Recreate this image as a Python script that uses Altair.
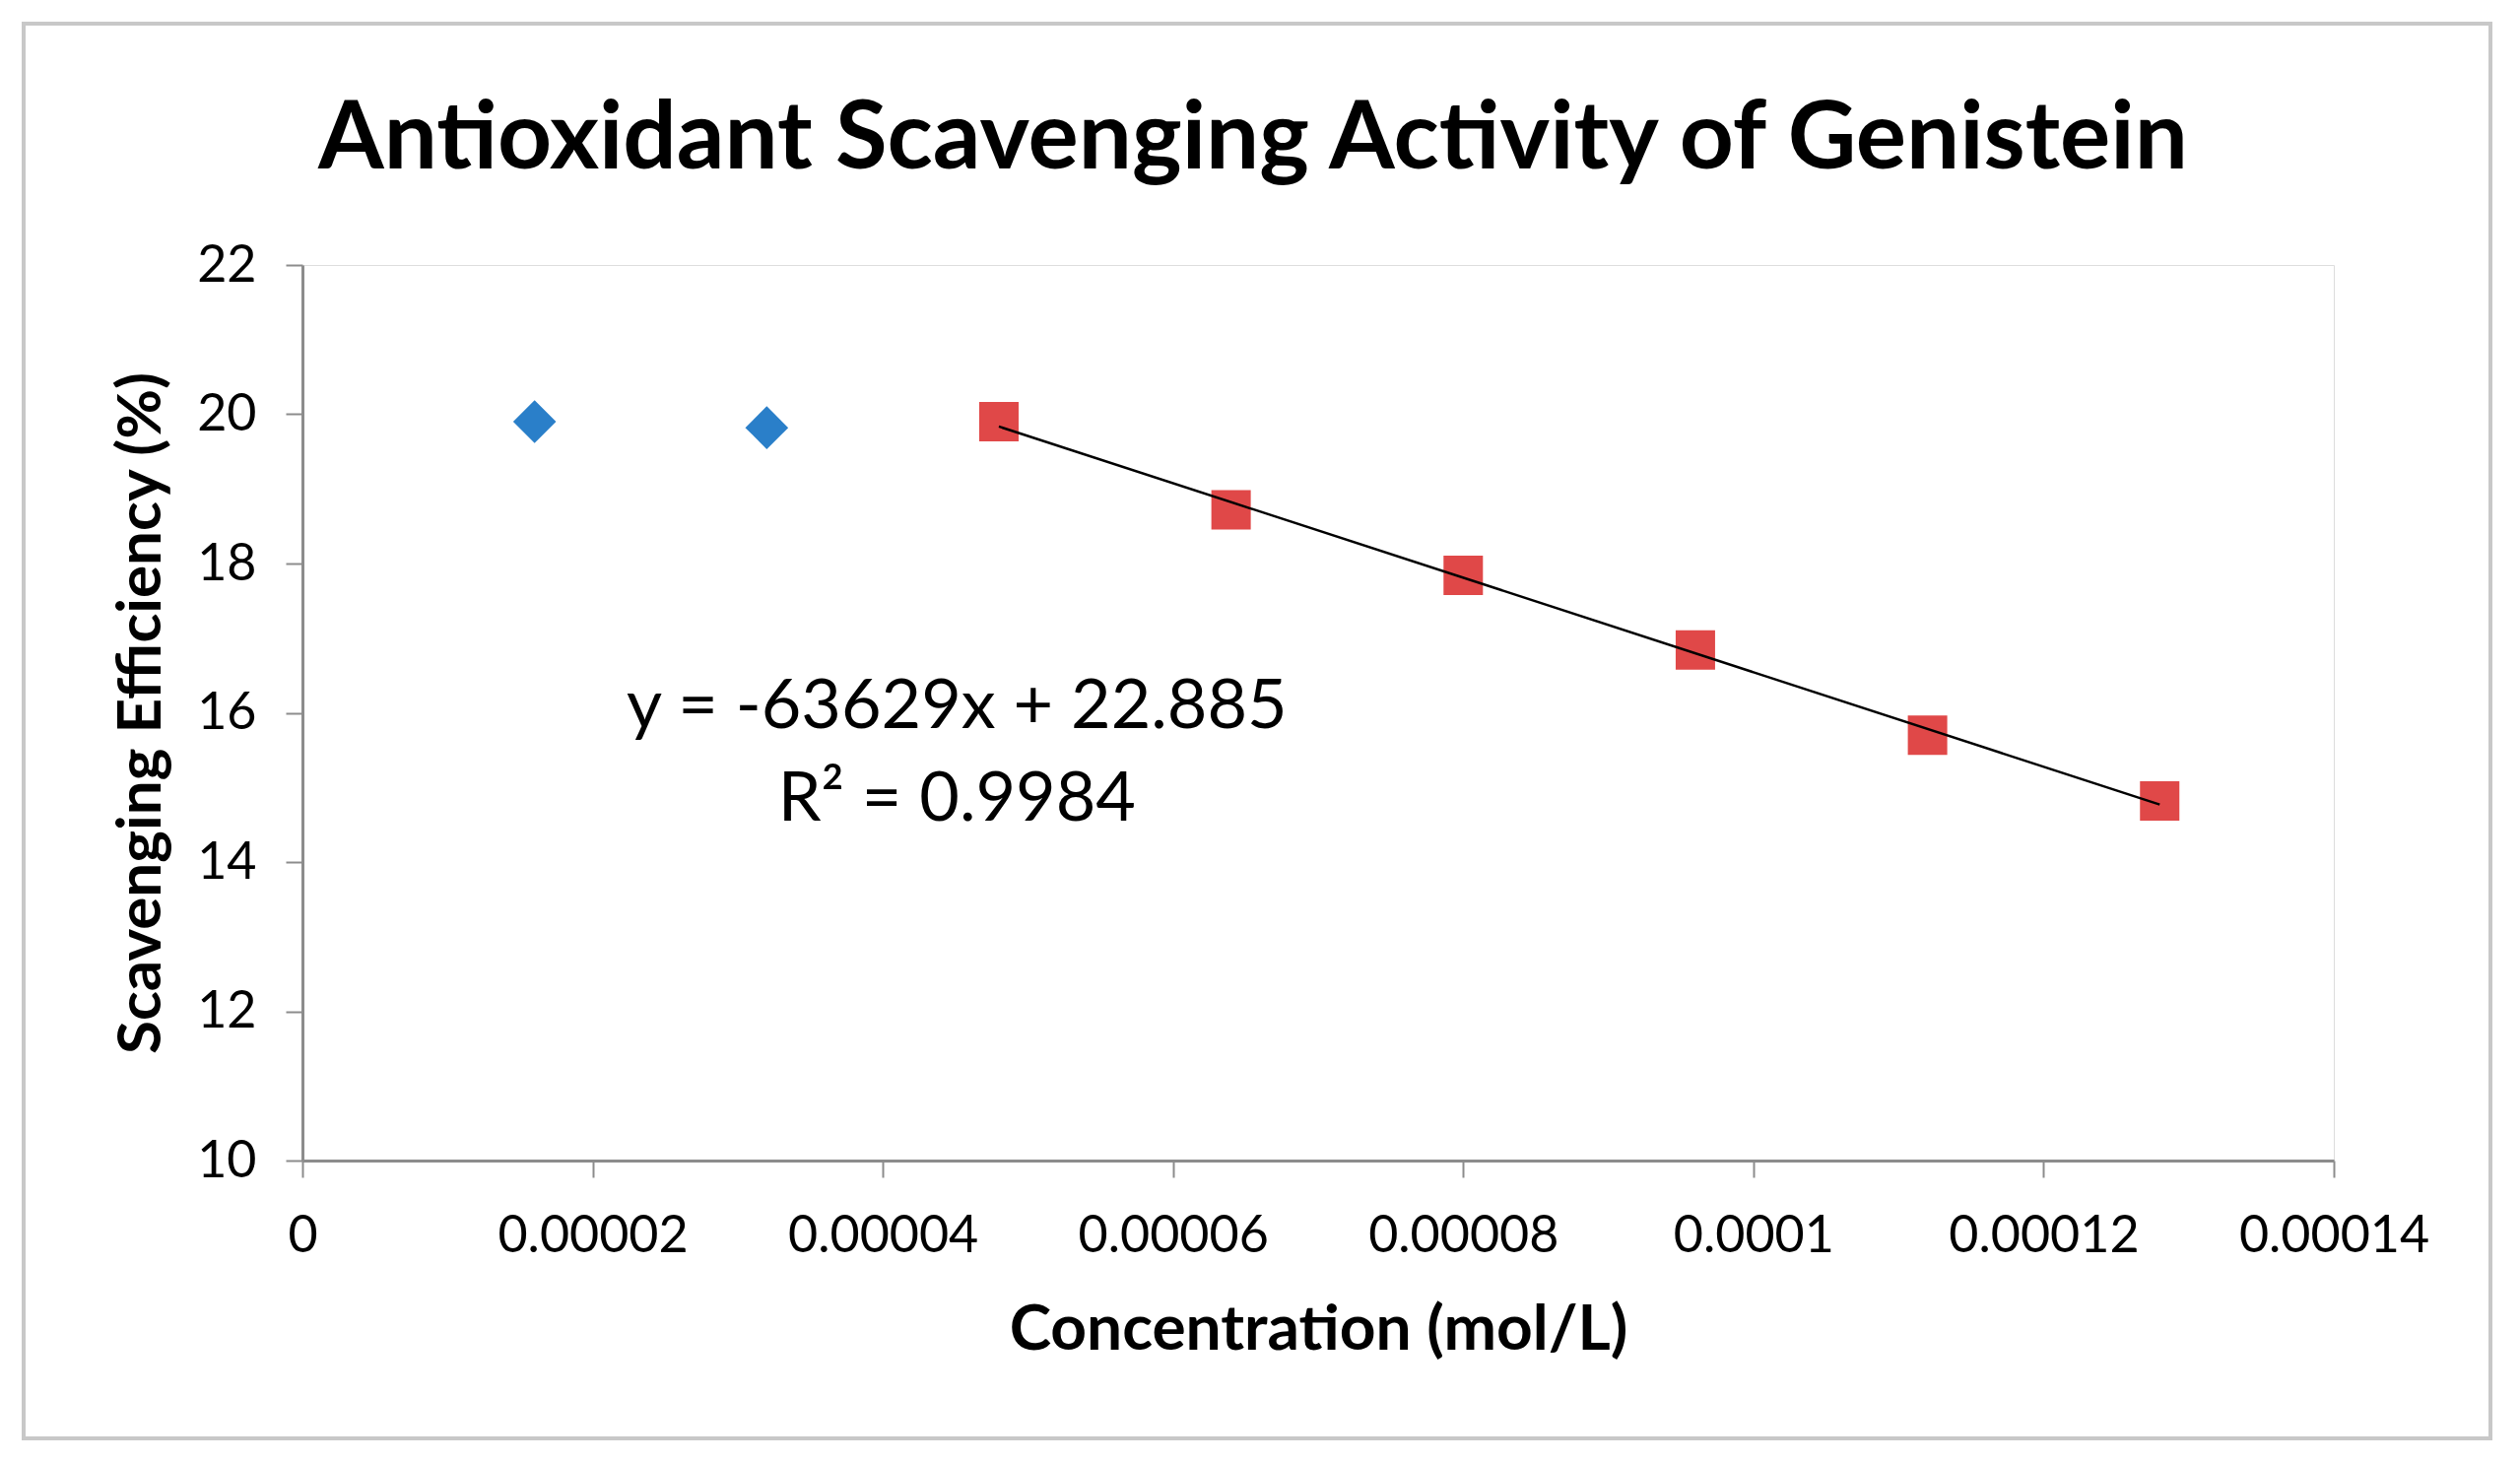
import altair as alt
import pandas as pd

# Data
blue_x = [0.000016, 0.000032]
blue_y = [19.90, 19.82]
red_x = [0.000048, 0.000064, 0.000080, 0.000096, 0.000112, 0.000128]
red_y = [19.90, 18.72, 17.84, 16.84, 15.70, 14.82]

x_ticks = [0, 0.00002, 0.00004, 0.00006, 0.00008, 0.0001, 0.00012, 0.00014]
y_ticks = [10, 12, 14, 16, 18, 20, 22]

eq_line1 = "y = -63629x + 22.885"
eq_line2 = "R² = 0.9984"
eq_x = 0.0000451
eq_y1 = 15.80
eq_y2 = 14.56

title_text = "Antioxidant Scavenging Activity of Genistein"
x_title = "Concentration (mol/L)"
y_title = "Scavenging Efficiency (%)"

blue_df = pd.DataFrame({"x": blue_x, "y": blue_y})
red_df = pd.DataFrame({"x": red_x, "y": red_y})
one = pd.DataFrame({"a": [0]})

FONT = "Lato"
W, H = 2062, 909

xscale = alt.Scale(domain=[0, 0.00014], nice=False, zero=False)
yscale = alt.Scale(domain=[10, 22], nice=False, zero=False)

xaxis = alt.Axis(
    values=x_ticks, format=".5~f", title=x_title, grid=False,
    labelFontSize=52, labelFont=FONT, labelColor="#000000", labelPadding=34,
    labelFlush=False, labelOverlap=False, labelLimit=600,
    titleFontSize=64, titleFont=FONT, titleFontWeight="bold", titleColor="#000000",
    titlePadding=38, domainColor="#8c8c8c", domainWidth=3,
    tickColor="#8c8c8c", tickWidth=2, tickSize=17,
)
yaxis = alt.Axis(
    values=y_ticks, format="d", title=y_title, grid=False,
    labelFontSize=52, labelFont=FONT, labelColor="#000000", labelPadding=30,
    labelFlush=False, labelOverlap=False, labelLimit=600,
    titleFontSize=62, titleFont=FONT, titleFontWeight="bold", titleColor="#000000",
    titlePadding=24, domainColor="#8c8c8c", domainWidth=3,
    tickColor="#8c8c8c", tickWidth=2, tickSize=17,
)

border = alt.Chart(one).mark_rect(
    fill=None, stroke="#c8c8c8", strokeWidth=4
).encode(
    x=alt.value(-283), x2=alt.value(2221), y=alt.value(-245), y2=alt.value(1191)
)

title = alt.Chart(one).mark_text(
    text=title_text, font=FONT, fontSize=96, fontWeight="bold", color="#000000",
    align="center", baseline="alphabetic"
).encode(x=alt.value(965), y=alt.value(-98))

blue = alt.Chart(blue_df).mark_point(
    shape="diamond", filled=True, size=1900, color="#2a7fc9", opacity=1
).encode(
    x=alt.X("x:Q", scale=xscale, axis=xaxis),
    y=alt.Y("y:Q", scale=yscale, axis=yaxis),
)

red = alt.Chart(red_df).mark_point(
    shape="square", filled=True, size=1600, color="#e04848", opacity=1
).encode(x=alt.X("x:Q", scale=xscale), y=alt.Y("y:Q", scale=yscale))

trend = alt.Chart(red_df).transform_regression("x", "y").mark_line(
    color="#000000", strokeWidth=2.5
).encode(x=alt.X("x:Q", scale=xscale), y=alt.Y("y:Q", scale=yscale))

eq1 = alt.Chart(one).transform_calculate(xx=str(eq_x), yy=str(eq_y1)).mark_text(
    text=eq_line1, font=FONT, fontSize=70, color="#000000", align="center", baseline="alphabetic"
).encode(x=alt.X("xx:Q", scale=xscale), y=alt.Y("yy:Q", scale=yscale))
eq2 = alt.Chart(one).transform_calculate(xx=str(eq_x), yy=str(eq_y2)).mark_text(
    text=eq_line2, font=FONT, fontSize=70, color="#000000", align="center", baseline="alphabetic"
).encode(x=alt.X("xx:Q", scale=xscale), y=alt.Y("yy:Q", scale=yscale))

chart = alt.layer(border, title, red, trend, blue, eq1, eq2).properties(
    width=W, height=H,
    autosize=alt.AutoSizeParams(type="none"),
    padding={"left": 299, "top": 261, "right": 170, "bottom": 290},
).configure_view(stroke=None).configure(background="white")

chart.save("out.html", embed_options={"renderer": "svg", "actions": False})
